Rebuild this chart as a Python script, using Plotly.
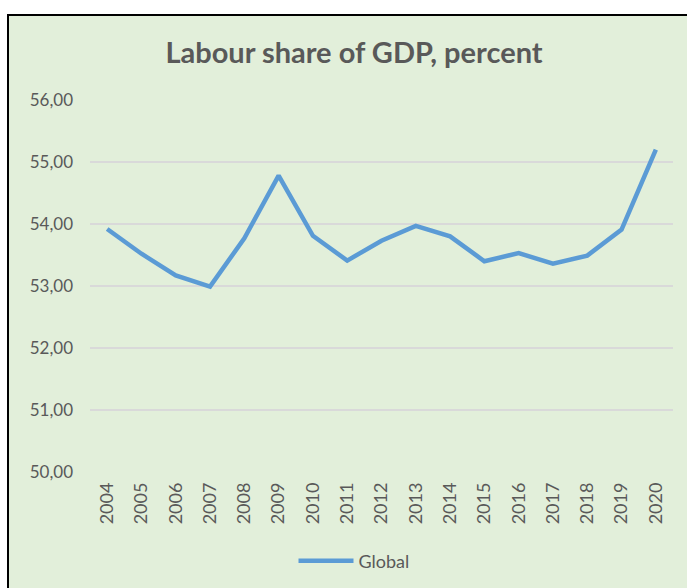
import plotly.graph_objects as go

years = [str(y) for y in range(2004, 2021)]
global_share = [53.92, 53.52, 53.17, 52.99, 53.77, 54.78, 53.81, 53.41, 53.73, 53.97,
                53.80, 53.40, 53.53, 53.36, 53.49, 53.91, 55.20]
y_ticks = [50, 51, 52, 53, 54, 55, 56]

FONT = "Lato"
GREY = "#595959"

L, R, T, B = 90, 14, 100, 116
W, H = 687, 588
pw, ph = W - L - R, H - T - B

def px(x):
    return (x - L) / pw

def py(y):
    return (H - B - y) / ph

fig = go.Figure()
fig.add_trace(go.Scatter(
    x=years, y=global_share, mode="lines", name="Global",
    line=dict(color="#5B9BD5", width=4.5),
))

fig.update_layout(
    width=W, height=H,
    margin=dict(l=L, r=R, t=T, b=B, autoexpand=False),
    paper_bgcolor="white",
    plot_bgcolor="rgba(0,0,0,0)",
    separators=",.",
    font=dict(family=FONT, color=GREY, size=17),
    title=dict(text="<b>Labour share of GDP, percent</b>", x=354 / W, xanchor="center",
               y=1 - 53 / H, yanchor="middle", yref="container",
               font=dict(family=FONT, size=29, color=GREY)),
    showlegend=True,
    legend=dict(orientation="h", x=354 / W, xref="container", xanchor="center",
                y=1 - 561 / H, yref="container", yanchor="middle",
                itemwidth=55, bgcolor="rgba(0,0,0,0)", font=dict(size=18, color=GREY)),
    shapes=[dict(type="rect", xref="paper", yref="paper", layer="below",
                 x0=px(8), x1=px(720), y0=py(620), y1=py(15),
                 fillcolor="#E2EFDA", line=dict(color="black", width=2))],
)
fig.update_xaxes(type="category", range=[-0.5, len(years) - 0.5], tickangle=-90,
                 showgrid=False, showline=False, ticks="", ticklabelstandoff=6,
                 tickfont=dict(size=18, color=GREY))
fig.update_yaxes(range=[50, 56], tickvals=y_ticks, tickformat=".2f",
                 showgrid=True, gridcolor="#D9D9D9", gridwidth=1.5, zeroline=False,
                 showline=False, ticks="", ticklabelstandoff=16,
                 tickfont=dict(size=17, color=GREY))

fig.write_html("out.html")
